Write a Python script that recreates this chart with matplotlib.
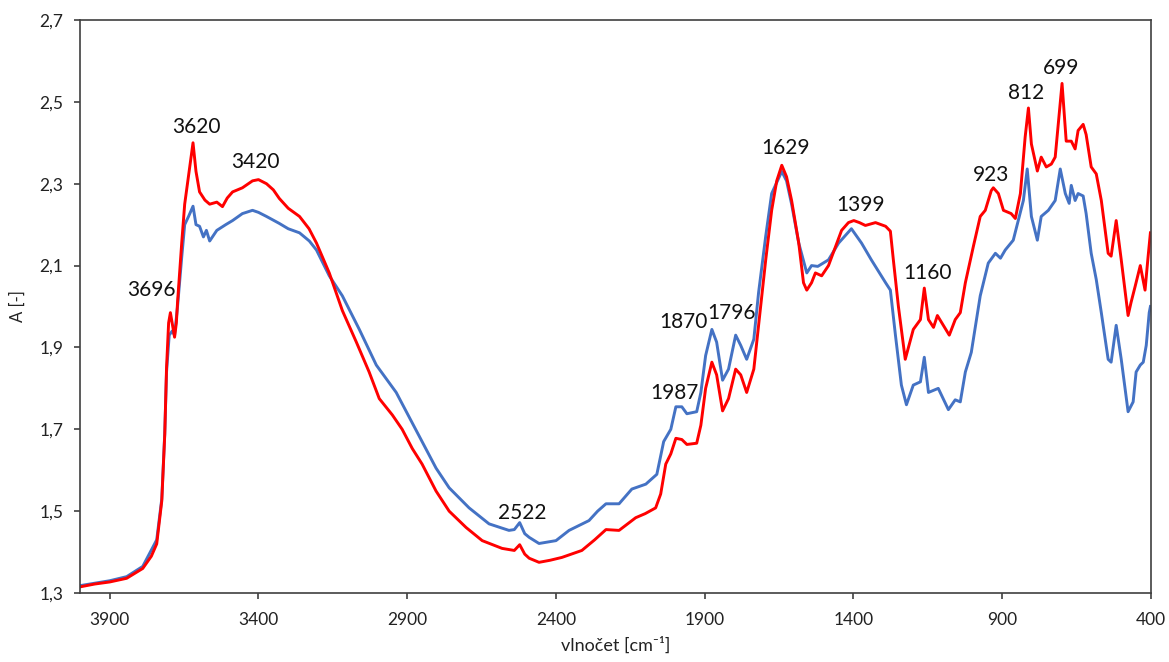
import matplotlib
matplotlib.use("Agg")
import matplotlib.pyplot as plt
from matplotlib.ticker import FuncFormatter

plt.rcParams['font.family'] = ['Lato', 'DejaVu Sans']

# red spectrum (wavenumber cm-1, absorbance)
red_wn = [4000, 3950, 3900, 3843, 3789, 3760, 3742, 3725, 3715, 3709, 3702, 3696,
          3688, 3682, 3676, 3672, 3658, 3648, 3635, 3620, 3610, 3598, 3580, 3564,
          3540, 3521, 3505, 3487, 3454, 3420, 3400, 3373, 3350, 3330, 3300, 3262,
          3230, 3205, 3162, 3118, 3071, 3028, 2994, 2950, 2917, 2883, 2850, 2803,
          2759, 2702, 2648, 2581, 2540, 2522, 2505, 2490, 2457, 2420, 2380, 2313,
          2270, 2232, 2188, 2132, 2100, 2065, 2048, 2031, 2014, 1997, 1977, 1960,
          1927, 1913, 1897, 1876, 1860, 1840, 1820, 1796, 1779, 1759, 1735, 1719,
          1695, 1675, 1658, 1641, 1625, 1608, 1584, 1568, 1557, 1541, 1528, 1507,
          1484, 1460, 1440, 1417, 1399, 1380, 1360, 1326, 1292, 1276, 1266, 1249,
          1226, 1199, 1175, 1162, 1148, 1131, 1118, 1098, 1078, 1058, 1041, 1024,
          997, 974, 957, 937, 930, 913, 896, 870, 856, 839, 823, 812, 802, 782,
          769, 752, 735, 722, 699, 685, 668, 655, 645, 628, 618, 601, 584, 567,
          544, 534, 517, 500, 477, 467, 453, 436, 420, 410, 402]
red_a = [1.315, 1.322, 1.327, 1.336, 1.36, 1.39, 1.42, 1.525, 1.687, 1.85, 1.96, 1.985,
         1.95, 1.925, 1.96, 2.01, 2.155, 2.25, 2.32, 2.40, 2.33, 2.28, 2.26, 2.25,
         2.255, 2.244, 2.265, 2.28, 2.29, 2.307, 2.31, 2.30, 2.285, 2.264, 2.24, 2.22,
         2.19, 2.155, 2.082, 1.99, 1.913, 1.84, 1.775, 1.735, 1.70, 1.653, 1.615, 1.549,
         1.50, 1.46, 1.428, 1.409, 1.404, 1.418, 1.395, 1.385, 1.375, 1.38, 1.387, 1.404,
         1.43, 1.455, 1.453, 1.484, 1.494, 1.508, 1.542, 1.615, 1.64, 1.678, 1.675, 1.663,
         1.666, 1.71, 1.80, 1.864, 1.833, 1.745, 1.775, 1.847, 1.833, 1.79, 1.847, 1.954,
         2.114, 2.235, 2.307, 2.345, 2.317, 2.259, 2.155, 2.058, 2.040, 2.058, 2.082, 2.075,
         2.10, 2.147, 2.186, 2.205, 2.21, 2.205, 2.198, 2.205, 2.196, 2.184, 2.114, 2.0,
         1.871, 1.944, 1.968, 2.045, 1.968, 1.949, 1.978, 1.954, 1.93, 1.968, 1.985, 2.058,
         2.147, 2.22, 2.235, 2.283, 2.29, 2.276, 2.235, 2.227, 2.215, 2.276, 2.414, 2.485, 2.397, 2.331,
         2.365, 2.341, 2.348, 2.365, 2.545, 2.404, 2.404, 2.385, 2.43, 2.445, 2.42, 2.341, 2.324, 2.259,
         2.13, 2.123, 2.21, 2.114, 1.978, 2.01, 2.05, 2.10, 2.04, 2.12, 2.18]

# blue spectrum
blue_wn = [4000, 3900, 3843, 3789, 3742, 3725, 3715, 3709, 3700, 3690, 3682, 3672,
           3658, 3648, 3635, 3620, 3610, 3598, 3585, 3575, 3564, 3540, 3510, 3487,
           3454, 3420, 3400, 3373, 3330, 3300, 3262, 3229, 3205, 3162, 3118, 3061,
           3004, 2937, 2903, 2850, 2803, 2759, 2692, 2625, 2558, 2540, 2522, 2505,
           2490, 2457, 2400, 2356, 2289, 2260, 2232, 2188, 2145, 2098, 2061, 2038,
           2014, 1997, 1977, 1960, 1927, 1913, 1897, 1876, 1860, 1840, 1820, 1796,
           1779, 1759, 1735, 1719, 1695, 1675, 1641, 1625, 1608, 1584, 1557, 1541,
           1520, 1484, 1450, 1407, 1373, 1340, 1292, 1276, 1259, 1239, 1222, 1199,
           1175, 1162, 1148, 1115, 1081, 1058, 1041, 1024, 1004, 974, 947, 923,
           906, 890, 863, 846, 829, 816, 802, 782, 769, 745, 722, 705, 688, 675,
           668, 655, 645, 628, 618, 601, 584, 567, 544, 534, 517, 500, 477, 460,
           450, 436, 426, 416, 406, 402]
blue_a = [1.318, 1.33, 1.34, 1.365, 1.43, 1.53, 1.69, 1.84, 1.93, 1.94, 1.93, 2.0,
          2.12, 2.20, 2.22, 2.245, 2.20, 2.196, 2.17, 2.186, 2.16, 2.186, 2.20, 2.21,
          2.227, 2.235, 2.23, 2.22, 2.203, 2.19, 2.18, 2.16, 2.138, 2.075, 2.026, 1.944,
          1.857, 1.79, 1.743, 1.67, 1.605, 1.557, 1.508, 1.469, 1.453, 1.455, 1.472, 1.445,
          1.436, 1.421, 1.428, 1.453, 1.477, 1.50, 1.518, 1.518, 1.554, 1.566, 1.59, 1.67,
          1.70, 1.755, 1.755, 1.738, 1.743, 1.79, 1.88, 1.944, 1.913, 1.82, 1.847, 1.93,
          1.905, 1.871, 1.92, 2.034, 2.172, 2.276, 2.33, 2.307, 2.25, 2.155, 2.082, 2.10,
          2.098, 2.114, 2.155, 2.19, 2.155, 2.114, 2.058, 2.04, 1.93, 1.808, 1.76, 1.808,
          1.816, 1.876, 1.79, 1.80, 1.748, 1.772, 1.767, 1.84, 1.888, 2.026, 2.106, 2.13,
          2.118, 2.138, 2.162, 2.21, 2.259, 2.336, 2.22, 2.162, 2.22, 2.235, 2.259, 2.336, 2.276, 2.252,
          2.296, 2.259, 2.276, 2.27, 2.227, 2.13, 2.066, 1.985, 1.871, 1.864, 1.954, 1.871, 1.743, 1.767,
          1.84, 1.857, 1.864, 1.905, 1.985, 2.0]

# peak labels: text, x (cm-1), y (A)
peak_labels = ['3696', '3620', '3420', '2522', '1987', '1870', '1796',
               '1629', '1399', '1160', '923', '812', '699']
peak_x = [3759, 3608, 3410, 2514, 2001, 1970, 1809, 1628, 1377, 1152, 937, 819, 702]
peak_y = [2.040, 2.439, 2.353, 1.495, 1.789, 1.962, 1.984, 2.387, 2.248, 2.082, 2.321, 2.522, 2.583]

x_ticks = [3900, 3400, 2900, 2400, 1900, 1400, 900, 400]
y_ticks = [1.3, 1.5, 1.7, 1.9, 2.1, 2.3, 2.5, 2.7]

fig = plt.figure(figsize=(11.69, 6.62), dpi=100)
ax = fig.add_axes([0.0684, 0.1042, 0.9162, 0.8656])

ax.plot(blue_wn, blue_a, color='#4472C4', linewidth=2.1, solid_joinstyle='round')
ax.plot(red_wn, red_a, color='#FF0000', linewidth=2.1, solid_joinstyle='round')

for t, x, y in zip(peak_labels, peak_x, peak_y):
    ax.text(x, y, t, ha='center', va='center', fontsize=15, color='#111111')

ax.set_xlim(4000, 400)
ax.set_ylim(1.3, 2.7)
ax.set_xticks(x_ticks)
ax.set_yticks(y_ticks)
ax.yaxis.set_major_formatter(FuncFormatter(lambda v, p: f'{v:.1f}'.replace('.', ',')))

for s in ax.spines.values():
    s.set_color('#404040')
    s.set_linewidth(1.2)
ax.tick_params(direction='out', length=4, width=1.2, color='#404040',
               labelsize=12.5, labelcolor='#222222')
ax.tick_params(axis='x', pad=10)
ax.tick_params(axis='y', pad=8)

ax.set_xlabel('vlnočet [cm⁻¹]', fontsize=13, color='#222222', labelpad=6)
ax.set_ylabel('A [-]', fontsize=12, color='#222222', labelpad=10)

fig.savefig('out.png', dpi=100)
